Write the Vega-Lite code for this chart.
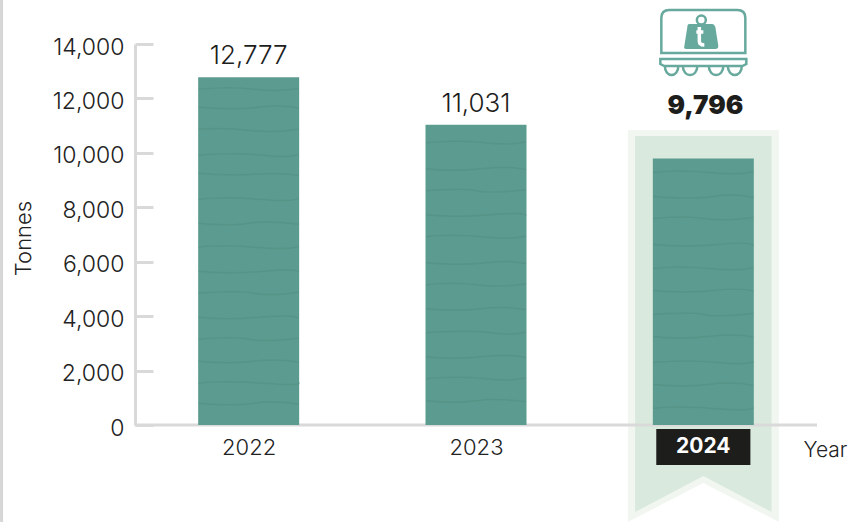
{"$schema":"https://vega.github.io/schema/vega-lite/v6.json","width":682,"height":381,"autosize":{"type":"none"},"padding":{"left":135,"top":44,"right":45,"bottom":97},"background":"#ffffff","view":{"stroke":null},
"datasets":{"bars":[{"year":2022,"tonnes":12777},{"year":2023,"tonnes":11031},{"year":2024,"tonnes":9796}],
"outer":[{"x":2023.668,"top":10840,"bottom":-3564},{"x":2024,"top":10840,"bottom":-2131},{"x":2024.332,"top":10840,"bottom":-3564}],
"inner":[{"x":2023.7,"top":10619,"bottom":-3197},{"x":2024,"top":10619,"bottom":-1874},{"x":2024.3,"top":10619,"bottom":-3197}],
"badge":[{"x":2023.793,"x2":2024.207,"top":-147,"bottom":-1470,"label":"2024","year":2024,"mid":-808}],
"one":[{"year":2024,"top":14000,"axisstart":2021.5,"axisend":2024.5,"zero":0,"edge":2020.913,"edgetop":15617,"edgebottom":-3564}]},
"resolve":{"axis":{"x":"independent","y":"independent"}},
"layer":[
{"data":{"name":"outer"},"mark":{"type":"area","fill":"#f1f6f1","clip":false},"encoding":{"x":{"field":"x","type":"quantitative","axis":null,"scale":{"domain":[2021.5,2024.5],"nice":false,"zero":false,"padding":0}},"y":{"field":"top","type":"quantitative","axis":null,"scale":{"domain":[0,14000],"nice":false}},"y2":{"field":"bottom"}}},
{"data":{"name":"inner"},"mark":{"type":"area","fill":"#d9e9dd","clip":false},"encoding":{"x":{"field":"x","type":"quantitative","axis":null,"scale":{"domain":[2021.5,2024.5],"nice":false,"zero":false,"padding":0}},"y":{"field":"top","type":"quantitative","axis":null,"scale":{"domain":[0,14000],"nice":false}},"y2":{"field":"bottom"}}},
{"data":{"name":"one"},"mark":{"type":"rule","stroke":"#d9d9d9","strokeWidth":3},"encoding":{"x":{"field":"axisstart","type":"quantitative","axis":null,"scale":{"domain":[2021.5,2024.5],"nice":false,"zero":false,"padding":0}},"x2":{"field":"axisend"},"y":{"field":"zero","type":"quantitative","axis":null,"scale":{"domain":[0,14000],"nice":false}}}},
{"data":{"name":"one"},"mark":{"type":"rule","stroke":"#d6d6d6","strokeWidth":3,"clip":false},"encoding":{"x":{"field":"edge","type":"quantitative","axis":null,"scale":{"domain":[2021.5,2024.5],"nice":false,"zero":false,"padding":0}},"y":{"field":"edgetop","type":"quantitative","axis":null,"scale":{"domain":[0,14000],"nice":false}},"y2":{"field":"edgebottom"}}},
{"data":{"name":"bars"},"mark":{"type":"bar","size":101,"fill":"#5c9c90","clip":false},
"encoding":{"x":{"field":"year","type":"quantitative","scale":{"domain":[2021.5,2024.5],"nice":false,"zero":false,"padding":0},
"axis":{"values":[2022,2023,2024],"format":"d","labelExpr":"datum.value==2024?'':datum.label","domain":false,"ticks":false,"grid":false,"labelFont":"Inter","labelFontSize":22,"labelFontWeight":300,"labelColor":"#222222","labelPadding":12,"title":"Year","titleFont":"Inter","titleFontWeight":300,"titleFontSize":21,"titleColor":"#222222","titleX":690,"titleY":25,"titleBaseline":"middle","titleAlign":"center"}},
"y":{"field":"tonnes","type":"quantitative","scale":{"domain":[0,14000],"nice":false},
"axis":{"values":[0,2000,4000,6000,8000,10000,12000,14000],"format":",d","grid":false,"domainColor":"#d9d9d9","domainWidth":3,"tickColor":"#d9d9d9","tickWidth":3,"tickSize":-18,"labelFont":"Inter","labelFontSize":23,"labelFontWeight":300,"labelColor":"#222222","labelPadding":29,"labelOffset":3,"title":"Tonnes","titleFont":"Inter","titleFontWeight":300,"titleFontSize":22,"titleColor":"#222222","titleX":-112,"titleY":194,"titleAlign":"center","titleBaseline":"middle"}}}},
{"data":{"name":"bars"},"transform":[{"filter":"datum.year==2022"}],"mark":{"type":"point","size":4,"filled":false,"stroke":"#4c8679","strokeWidth":1.5,"opacity":0.35,"clip":false,"shape":"M-50,12 Q-20,9 5,12 T50,11 M-50,30 Q-15,33 10,30 T50,31 M-50,52 Q-25,50 0,53 T50,52 M-50,78 Q-10,75 15,78 T50,77 M-50,96 Q-20,99 5,97 T50,98 M-50,122 Q-25,119 10,122 T50,121 M-50,146 Q-15,149 0,146 T50,147 M-50,170 Q-30,167 5,170 T50,169 M-50,194 Q-20,197 15,194 T50,195 M-50,216 Q-10,213 5,216 T50,215 M-50,240 Q-25,243 10,240 T50,241 M-50,262 Q-15,259 0,262 T50,261 M-50,284 Q-20,287 5,284 T50,285 M-50,306 Q-25,303 15,306 T50,305 M-50,326 Q-15,329 5,326 T50,327"},"encoding":{"x":{"field":"year","type":"quantitative","axis":null,"scale":{"domain":[2021.5,2024.5],"nice":false,"zero":false,"padding":0}},"y":{"field":"tonnes","type":"quantitative","axis":null,"scale":{"domain":[0,14000],"nice":false}}}},
{"data":{"name":"bars"},"transform":[{"filter":"datum.year==2023"}],"mark":{"type":"point","size":4,"filled":false,"stroke":"#4c8679","strokeWidth":1.5,"opacity":0.35,"clip":false,"shape":"M-50,18 Q-15,15 10,18 T50,17 M-50,44 Q-25,47 5,44 T50,45 M-50,66 Q-10,63 0,66 T50,65 M-50,90 Q-20,93 15,90 T50,91 M-50,112 Q-30,109 5,112 T50,111 M-50,138 Q-15,141 10,138 T50,139 M-50,160 Q-25,157 0,160 T50,159 M-50,184 Q-20,187 5,184 T50,185 M-50,208 Q-10,205 15,208 T50,207 M-50,232 Q-25,235 5,232 T50,233 M-50,254 Q-15,251 10,254 T50,253 M-50,276 Q-20,279 0,276 T50,277"},"encoding":{"x":{"field":"year","type":"quantitative","axis":null,"scale":{"domain":[2021.5,2024.5],"nice":false,"zero":false,"padding":0}},"y":{"field":"tonnes","type":"quantitative","axis":null,"scale":{"domain":[0,14000],"nice":false}}}},
{"data":{"name":"bars"},"transform":[{"filter":"datum.year==2024"}],"mark":{"type":"point","size":4,"filled":false,"stroke":"#4c8679","strokeWidth":1.5,"opacity":0.35,"clip":false,"shape":"M-50,14 Q-25,11 5,14 T50,13 M-50,38 Q-10,41 10,38 T50,39 M-50,60 Q-20,57 0,60 T50,59 M-50,86 Q-15,89 15,86 T50,87 M-50,110 Q-25,107 5,110 T50,109 M-50,132 Q-20,135 10,132 T50,133 M-50,156 Q-10,153 0,156 T50,155 M-50,178 Q-25,181 5,178 T50,179 M-50,204 Q-15,201 15,204 T50,203 M-50,226 Q-20,229 5,226 T50,227 M-50,250 Q-30,247 10,250 T50,249"},"encoding":{"x":{"field":"year","type":"quantitative","axis":null,"scale":{"domain":[2021.5,2024.5],"nice":false,"zero":false,"padding":0}},"y":{"field":"tonnes","type":"quantitative","axis":null,"scale":{"domain":[0,14000],"nice":false}}}},
{"data":{"name":"bars"},"transform":[{"filter":"datum.year<2024"}],"mark":{"type":"text","font":"Inter","fontSize":26,"fontWeight":300,"fill":"#1d1d1b","baseline":"bottom","dy":-8},"encoding":{"x":{"field":"year","type":"quantitative","axis":null,"scale":{"domain":[2021.5,2024.5],"nice":false,"zero":false,"padding":0}},"y":{"field":"tonnes","type":"quantitative","axis":null,"scale":{"domain":[0,14000],"nice":false}},"text":{"field":"tonnes","format":",d"}}},
{"data":{"name":"bars"},"transform":[{"filter":"datum.year==2024"}],"mark":{"type":"text","font":"Inter","fontSize":26,"fontWeight":900,"fill":"#1d1d1b","baseline":"middle","dy":-52,"dx":2},"encoding":{"x":{"field":"year","type":"quantitative","axis":null,"scale":{"domain":[2021.5,2024.5],"nice":false,"zero":false,"padding":0}},"y":{"field":"tonnes","type":"quantitative","axis":null,"scale":{"domain":[0,14000],"nice":false}},"text":{"field":"tonnes","format":",d"}}},
{"data":{"name":"badge"},"mark":{"type":"rect","fill":"#1d1d1b","clip":false},"encoding":{"x":{"field":"x","type":"quantitative","axis":null,"scale":{"domain":[2021.5,2024.5],"nice":false,"zero":false,"padding":0}},"x2":{"field":"x2"},"y":{"field":"top","type":"quantitative","axis":null,"scale":{"domain":[0,14000],"nice":false}},"y2":{"field":"bottom"}}},
{"data":{"name":"badge"},"mark":{"type":"text","font":"Inter","fontSize":21,"fontWeight":700,"fill":"#ffffff","baseline":"middle"},"encoding":{"x":{"field":"year","type":"quantitative","axis":null,"scale":{"domain":[2021.5,2024.5],"nice":false,"zero":false,"padding":0}},"y":{"field":"mid","type":"quantitative","axis":null,"scale":{"domain":[0,14000],"nice":false}},"text":{"field":"label"}}},
{"data":{"name":"one"},"mark":{"type":"point","size":4,"filled":false,"strokeWidth":2.5,"stroke":"#68a99e","opacity":1,"clip":false,"shape":"M-42,9 L-42,-26 Q-42,-34 -34,-34 L34,-34 Q42,-34 42,-26 L42,9 Z M-43,15 L43,15 L43,20 L39,22 L-39,22 L-43,20 Z M-38.5,22 C-38.5,34 -25,34 -25,22 M-20.5,22 C-20.5,34 -6,34 -6,22 M5.5,22 C5.5,34 20,34 20,22 M24.5,22 C24.5,34 38.5,34 38.5,22"},"encoding":{"x":{"field":"year","type":"quantitative","axis":null,"scale":{"domain":[2021.5,2024.5],"nice":false,"zero":false,"padding":0}},"y":{"field":"top","type":"quantitative","axis":null,"scale":{"domain":[0,14000],"nice":false}}}},
{"data":{"name":"one"},"mark":{"type":"point","size":4,"filled":true,"fill":"#68a99e","opacity":1,"strokeWidth":0,"clip":false,"shape":"M-14,-20 L9,-20 Q11,-20 12,-17 L15,2 Q15,5 12,5 L-17,5 Q-20,5 -19,2 L-16,-17 Q-16,-20 -14,-20 Z"},"encoding":{"x":{"field":"year","type":"quantitative","axis":null,"scale":{"domain":[2021.5,2024.5],"nice":false,"zero":false,"padding":0}},"y":{"field":"top","type":"quantitative","axis":null,"scale":{"domain":[0,14000],"nice":false}}}},
{"data":{"name":"one"},"mark":{"type":"point","size":80,"shape":"circle","filled":false,"stroke":"#68a99e","strokeWidth":2.5,"opacity":1,"clip":false,"yOffset":-24,"xOffset":-2},"encoding":{"x":{"field":"year","type":"quantitative","axis":null,"scale":{"domain":[2021.5,2024.5],"nice":false,"zero":false,"padding":0}},"y":{"field":"top","type":"quantitative","axis":null,"scale":{"domain":[0,14000],"nice":false}}}},
{"data":{"name":"one"},"mark":{"type":"point","size":4,"filled":false,"stroke":"#ffffff","strokeWidth":3.5,"opacity":1,"clip":false,"shape":"M-4,-17 L-4,-3 Q-4,1 1,1 M-7,-12 L0,-12"},"encoding":{"x":{"field":"year","type":"quantitative","axis":null,"scale":{"domain":[2021.5,2024.5],"nice":false,"zero":false,"padding":0}},"y":{"field":"top","type":"quantitative","axis":null,"scale":{"domain":[0,14000],"nice":false}}}}
],"config":{"style":{"cell":{"stroke":null}}}}
